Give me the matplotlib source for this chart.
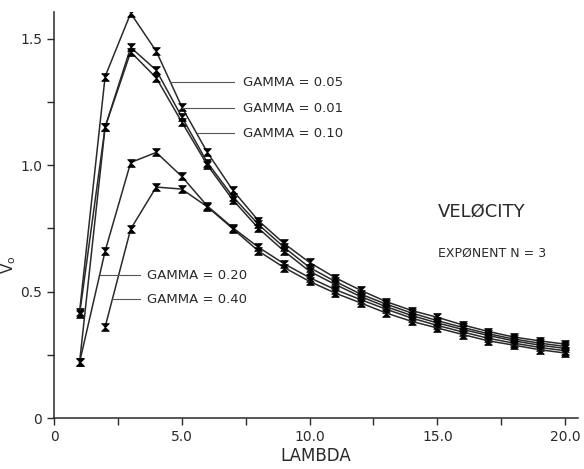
import numpy as np
import matplotlib
matplotlib.use("Agg")
import matplotlib.pyplot as plt
from matplotlib.path import Path

# datos (lambda = 1..20)
lam = list(range(1, 21))
v_g005 = [0.42, 1.35, 1.60, 1.45, 1.23, 1.05, 0.90, 0.78, 0.69, 0.615,
          0.555, 0.505, 0.46, 0.425, 0.398, 0.368, 0.342, 0.32, 0.305, 0.292]
v_g001 = [0.41, 1.15, 1.465, 1.375, 1.19, 1.01, 0.875, 0.765, 0.675, 0.595,
          0.54, 0.49, 0.45, 0.415, 0.385, 0.358, 0.333, 0.312, 0.296, 0.283]
v_g010 = [0.22, 1.15, 1.447, 1.345, 1.17, 1.00, 0.862, 0.75, 0.66, 0.58,
          0.528, 0.48, 0.44, 0.405, 0.376, 0.35, 0.326, 0.305, 0.288, 0.275]
v_g020 = [0.22, 0.66, 1.01, 1.05, 0.955, 0.838, 0.752, 0.675, 0.61, 0.555,
          0.508, 0.468, 0.43, 0.395, 0.366, 0.34, 0.315, 0.296, 0.279, 0.266]
# gamma 0.40 empieza en lambda = 2
v_g040 = [np.nan, 0.36, 0.747, 0.913, 0.905, 0.835, 0.748, 0.66, 0.595, 0.54,
          0.494, 0.455, 0.415, 0.382, 0.356, 0.33, 0.305, 0.288, 0.27, 0.257]

x_ticks = [0, 5, 10, 15, 20]
x_labels = ["0", "5.0", "10.0", "15.0", "20.0"]
y_ticks = [0, 0.5, 1.0, 1.5]
y_labels = ["0", "0.5", "1.0", "1.5"]

# marcador tipo reloj de arena (como el del plotter)
reloj = Path([(-1, 1), (1, 1), (-1, -1), (1, -1), (-1, 1)],
             [Path.MOVETO, Path.LINETO, Path.LINETO, Path.LINETO, Path.CLOSEPOLY])

tinta = "#2a2a2a"
plt.rcParams["font.family"] = ["DejaVu Sans"]

fig = plt.figure(figsize=(5.84, 4.69), dpi=100)
ax = fig.add_axes([0.0925, 0.1087, 0.897, 0.8657])

for serie in [v_g005, v_g001, v_g010, v_g020, v_g040]:
    ax.plot(lam, serie, color=tinta, linewidth=1.1, marker=reloj,
            markersize=5.5, markerfacecolor="black", markeredgecolor="black",
            markeredgewidth=0.6)

ax.set_xlim(0, 20.5)
ax.set_ylim(0, 1.605)

ax.spines["top"].set_visible(False)
ax.spines["right"].set_visible(False)
ax.spines["left"].set_color(tinta)
ax.spines["bottom"].set_color(tinta)
ax.spines["left"].set_linewidth(1.1)
ax.spines["bottom"].set_linewidth(1.1)

ax.set_xticks(x_ticks)
ax.set_xticklabels(x_labels)
ax.set_xticks([2.5, 7.5, 12.5, 17.5], minor=True)
ax.set_yticks(y_ticks)
ax.set_yticklabels(y_labels)
ax.set_yticks([0.25, 0.75, 1.25], minor=True)
ax.tick_params(which="both", direction="out", length=5, width=1.0,
               colors=tinta, labelsize=10)

ax.set_xlabel("LAMBDA", fontsize=12, color=tinta, labelpad=2)
ax.set_ylabel(r"V$_{\mathregular{o}}$", fontsize=11, color=tinta)
ax.yaxis.set_label_coords(-0.068, 0.377)

# etiquetas de gamma con lineas guia
lam_arr = np.array(lam, dtype=float)
bajada = np.array(v_g005)[2:]          # parte descendente de la curva externa
x_baj = lam_arr[2:]
for texto, yy in [("GAMMA = 0.05", 1.328), ("GAMMA = 0.01", 1.225),
                  ("GAMMA = 0.10", 1.126)]:
    x0 = np.interp(yy, bajada[::-1], x_baj[::-1])
    ax.plot([x0, 7.05], [yy, yy], color="#555555", linewidth=0.8)
    ax.text(7.4, yy, texto, fontsize=9.5, color=tinta, va="center", ha="left")

x020 = np.interp(0.565, v_g020[:2], lam_arr[:2])
ax.plot([x020, 3.37], [0.565, 0.565], color="#555555", linewidth=0.8)
ax.text(3.64, 0.565, "GAMMA = 0.20", fontsize=9.5, color=tinta, va="center")

x040 = np.interp(0.47, v_g040[1:3], lam_arr[1:3])
ax.plot([x040, 3.37], [0.47, 0.47], color="#555555", linewidth=0.8)
ax.text(3.64, 0.47, "GAMMA = 0.40", fontsize=9.5, color=tinta, va="center")

ax.text(15.03, 0.814, "VELØCITY", fontsize=13, color=tinta, va="center")
ax.text(15.03, 0.652, "EXPØNENT N = 3", fontsize=9, color=tinta, va="center")

fig.savefig("out.png", dpi=100, facecolor="white")
